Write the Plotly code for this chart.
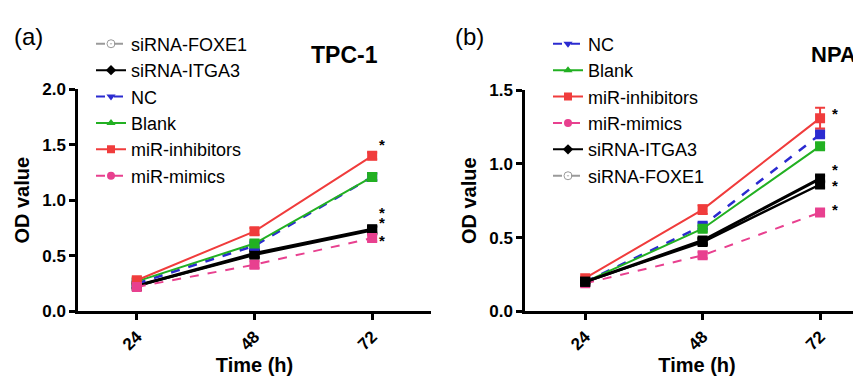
import plotly.graph_objects as go

times = [24, 48, 72]

# Panel (a) TPC-1
a_names = ["siRNA-FOXE1", "siRNA-ITGA3", "NC", "Blank", "miR-inhibitors", "miR-mimics"]
a_foxe1 = [0.23, 0.51, 0.73]
a_itga3 = [0.23, 0.52, 0.74]
a_nc = [0.25, 0.59, 1.21]
a_blank = [0.27, 0.61, 1.21]
a_inhib = [0.28, 0.72, 1.40]
a_mimic = [0.22, 0.42, 0.66]
a_err = [0.02, 0.03, 0.03]
a_stars = [1.48, 0.87, 0.78, 0.62]

# Panel (b) NPA
b_names = ["NC", "Blank", "miR-inhibitors", "miR-mimics", "siRNA-ITGA3", "siRNA-FOXE1"]
b_nc = [0.20, 0.58, 1.20]
b_blank = [0.20, 0.56, 1.12]
b_inhib = [0.225, 0.69, 1.31]
b_mimic = [0.19, 0.38, 0.67]
b_itga3 = [0.20, 0.48, 0.90]
b_foxe1 = [0.20, 0.47, 0.86]
b_err_inhib = [0.01, 0.03, 0.07]
b_err = [0.01, 0.02, 0.02]
b_stars = [1.33, 0.95, 0.84, 0.68]

FONT = "Arial, Liberation Sans, sans-serif"

style = {
    "siRNA-FOXE1": dict(color="#9a9a9a", plot="#000000", dash="dash", pdash="solid", symbol="circle-open-dot", width=2.5),
    "siRNA-ITGA3": dict(color="#000000", plot="#000000", dash="solid", pdash="solid", symbol="diamond", width=3),
    "NC": dict(color="#2b2bd0", plot="#2b2bd0", dash="dash", pdash="dash", symbol="triangle-down", width=2.5),
    "Blank": dict(color="#22b022", plot="#22b022", dash="solid", pdash="solid", symbol="triangle-up", width=2),
    "miR-inhibitors": dict(color="#f03c3c", plot="#f03c3c", dash="solid", pdash="solid", symbol="square", width=2),
    "miR-mimics": dict(color="#e8408f", plot="#e8408f", dash="dash", pdash="dash", symbol="circle", width=2),
}

fig = go.Figure()

def add_panel(names, series, errs, xa, ya, leg):
    for name, vals, err in zip(names, series, errs):
        s = style[name]
        fig.add_trace(go.Scatter(
            x=times, y=vals, mode="lines+markers", showlegend=False,
            line=dict(color=s["plot"], dash=s["pdash"], width=s["width"]),
            marker=dict(symbol="square", size=10, color=s["plot"]),
            error_y=dict(type="data", array=err, color=s["plot"], thickness=2, width=5),
            xaxis=xa, yaxis=ya))
    for i, name in enumerate(names):
        s = style[name]
        fig.add_trace(go.Scatter(
            x=[None], y=[None], mode="lines+markers", name=name, legend=leg,
            legendgroup=leg + str(i),
            line=dict(color=s["color"], dash=s["dash"], width=2),
            marker=dict(symbol=s["symbol"], size=8, color=s["color"]),
            xaxis=xa, yaxis=ya))

add_panel(a_names, [a_foxe1, a_itga3, a_nc, a_blank, a_inhib, a_mimic],
          [a_err, a_err, a_err, a_err, a_err, a_err], "x", "y", "legend")
add_panel(b_names, [b_nc, b_blank, b_inhib, b_mimic, b_itga3, b_foxe1],
          [b_err, b_err, b_err_inhib, b_err, b_err, b_err], "x2", "y2", "legend2")

ann = []
for yv in a_stars:
    ann.append(dict(x=72, y=yv, xref="x", yref="y", text="<b>*</b>", showarrow=False,
                    xshift=5, yshift=2, xanchor="left", font=dict(size=15, color="black", family=FONT)))
for yv in b_stars:
    ann.append(dict(x=72, y=yv, xref="x2", yref="y2", text="<b>*</b>", showarrow=False,
                    xshift=10, yshift=2, xanchor="left", font=dict(size=15, color="black", family=FONT)))

def pann(x, y, text, size, xanchor="left"):
    return dict(x=x / 861, y=1 - y / 376, xref="paper", yref="paper", text=text,
                showarrow=False, xanchor=xanchor, yanchor="middle",
                font=dict(size=size, color="black", family=FONT))

ann += [
    pann(4, 21, "(a)", 24),
    pann(445, 21, "(b)", 24),
    pann(336, 40, "<b>TPC-1</b>", 23, "center"),
    pann(801, 40, "<b>NPA</b>", 22),
]

axis_common = dict(showline=True, linecolor="black", linewidth=2.5, ticks="outside",
                   ticklen=6, tickwidth=2.5, tickcolor="black", showgrid=False, zeroline=False,
                   tickfont=dict(size=17, family=FONT, color="black"))

def xax(domain, rng, anchor):
    return dict(domain=domain, range=rng, tickvals=times,
                ticktext=["<b>24</b>", "<b>48</b>", "<b>72</b>"], tickangle=-45,
                title=dict(text="<b>Time (h)</b>", font=dict(size=20, family=FONT), standoff=4),
                anchor=anchor, **axis_common)

def yax(domain, rng, vals, anchor):
    return dict(domain=domain, range=rng, tickvals=vals,
                ticktext=["<b>%.1f</b>" % v for v in vals],
                title=dict(text="<b>OD value</b>", font=dict(size=20, family=FONT), standoff=8),
                anchor=anchor, **axis_common)

legend_common = dict(xanchor="left", yanchor="top", bgcolor="rgba(0,0,0,0)",
                     font=dict(size=18, family=FONT, color="black"),
                     traceorder="grouped", tracegroupgap=0, itemwidth=30)

fig.update_layout(
    width=861, height=376, margin=dict(l=0, r=0, t=0, b=0),
    plot_bgcolor="white", paper_bgcolor="white",
    font=dict(family=FONT, color="black"),
    annotations=ann,
    xaxis=xax([70 / 861, 423 / 861], [12, 84], "y"),
    yaxis=yax([1 - 310 / 376, 1 - 76 / 376], [0, 2.0], [0, 0.5, 1.0, 1.5, 2.0], "x"),
    xaxis2=xax([517 / 861, 1.0], [11.7, 82], "y2"),
    yaxis2=yax([1 - 310 / 376, 1 - 77 / 376], [0, 1.5], [0, 0.5, 1.0, 1.5], "x2"),
    legend=dict(x=83 / 861, y=1 - 9 / 376, **legend_common),
    legend2=dict(x=540 / 861, y=1 - 9 / 376, **legend_common),
)

fig.write_html("out.html")
